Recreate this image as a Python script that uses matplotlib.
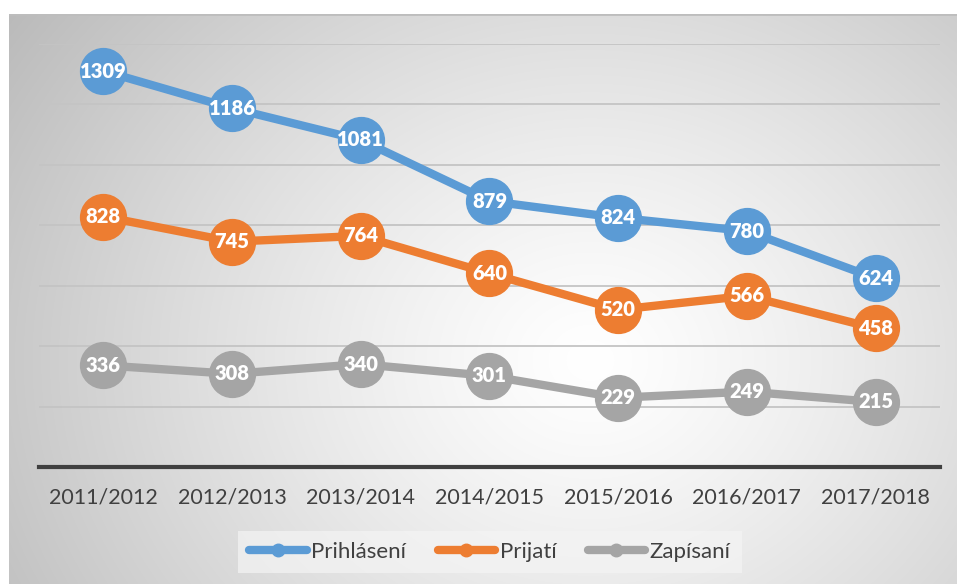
import numpy as np
import matplotlib
matplotlib.use("Agg")
import matplotlib.pyplot as plt
from matplotlib.lines import Line2D

categories = ["2011/2012", "2012/2013", "2013/2014", "2014/2015", "2015/2016", "2016/2017", "2017/2018"]
prihlaseni = [1309, 1186, 1081, 879, 824, 780, 624]
prijati = [828, 745, 764, 640, 520, 566, 458]
zapisani = [336, 308, 340, 301, 229, 249, 215]
series_names = ["Prihlásení", "Prijatí", "Zapísaní"]
colors = ["#5B9BD5", "#ED7D31", "#A5A5A5"]

plt.rcParams['font.family'] = ['Lato', 'DejaVu Sans']

W, H = 957, 584
fig = plt.figure(figsize=(W / 100, H / 100), dpi=100)
fig.patch.set_facecolor('white')

# radial gradient background
bx0, by0 = 9, 14
bg = fig.add_axes([bx0 / W, 0, (W - bx0) / W, (H - by0) / H], zorder=0)
xs = np.arange(bx0, W)
ys = np.arange(by0, H)
X, Y = np.meshgrid(xs, ys)
cx, cy = 590, 360
d = np.sqrt(((X - cx) / 1.0) ** 2 + ((Y - cy) / 0.85) ** 2)
d = d / d.max()
v = 1 - 0.27 * np.clip(d, 0, 1) ** 1.25
img = np.dstack([v, v, v])
bg.imshow(img, aspect='auto', extent=[0, 1, 0, 1], origin='upper')
bg.axhline(1, color='#bdbdbd', lw=2)
bg.set_axis_off()

ax = fig.add_axes([39 / W, 117 / H, (940 - 39) / W, (467 - 43.5) / H], zorder=1)
ax.patch.set_alpha(0)
x = np.arange(len(categories))
for vals, col, name in zip([prihlaseni, prijati, zapisani], colors, series_names):
    ax.plot(x, vals, color=col, lw=6, marker='o', markersize=33, label=name,
            solid_capstyle='round', zorder=3)
    for xi, vi in zip(x, vals):
        ax.text(xi, vi, str(vi), ha='center', va='center', color='white',
                fontsize=14.5, fontweight='heavy', zorder=4)

ax.set_xlim(-0.5, len(categories) - 0.5)
ax.set_ylim(0, 1400)
ax.set_yticks(np.arange(200, 1401, 200))
ax.yaxis.grid(True, color='#c4c4c4', lw=1.3)
ax.set_axisbelow(True)
ax.tick_params(axis='y', left=False, labelleft=False)
ax.set_xticks(x)
ax.set_xticklabels(categories, fontsize=15.5, color='#404040')
ax.tick_params(axis='x', length=0, pad=15)
for s in ['top', 'right', 'left']:
    ax.spines[s].set_visible(False)
ax.spines['bottom'].set_color('#404040')
ax.spines['bottom'].set_linewidth(3)

hs = [Line2D([0], [0], color=c, lw=6, marker='o', markersize=9, solid_capstyle='round') for c in colors]
leg = fig.legend(hs, series_names, loc='center', bbox_to_anchor=(490 / W, (H - 552) / H),
                 ncol=3, frameon=True, fontsize=16, handlelength=2.6, handletextpad=0.2,
                 columnspacing=1.4, borderpad=0.5)
leg.get_frame().set_facecolor('#f4f4f4')
leg.get_frame().set_alpha(0.7)
leg.get_frame().set_edgecolor('none')
leg.get_frame().set_boxstyle('square', pad=0)
for t in leg.get_texts():
    t.set_color('#404040')

fig.savefig('out.png', dpi=100)
